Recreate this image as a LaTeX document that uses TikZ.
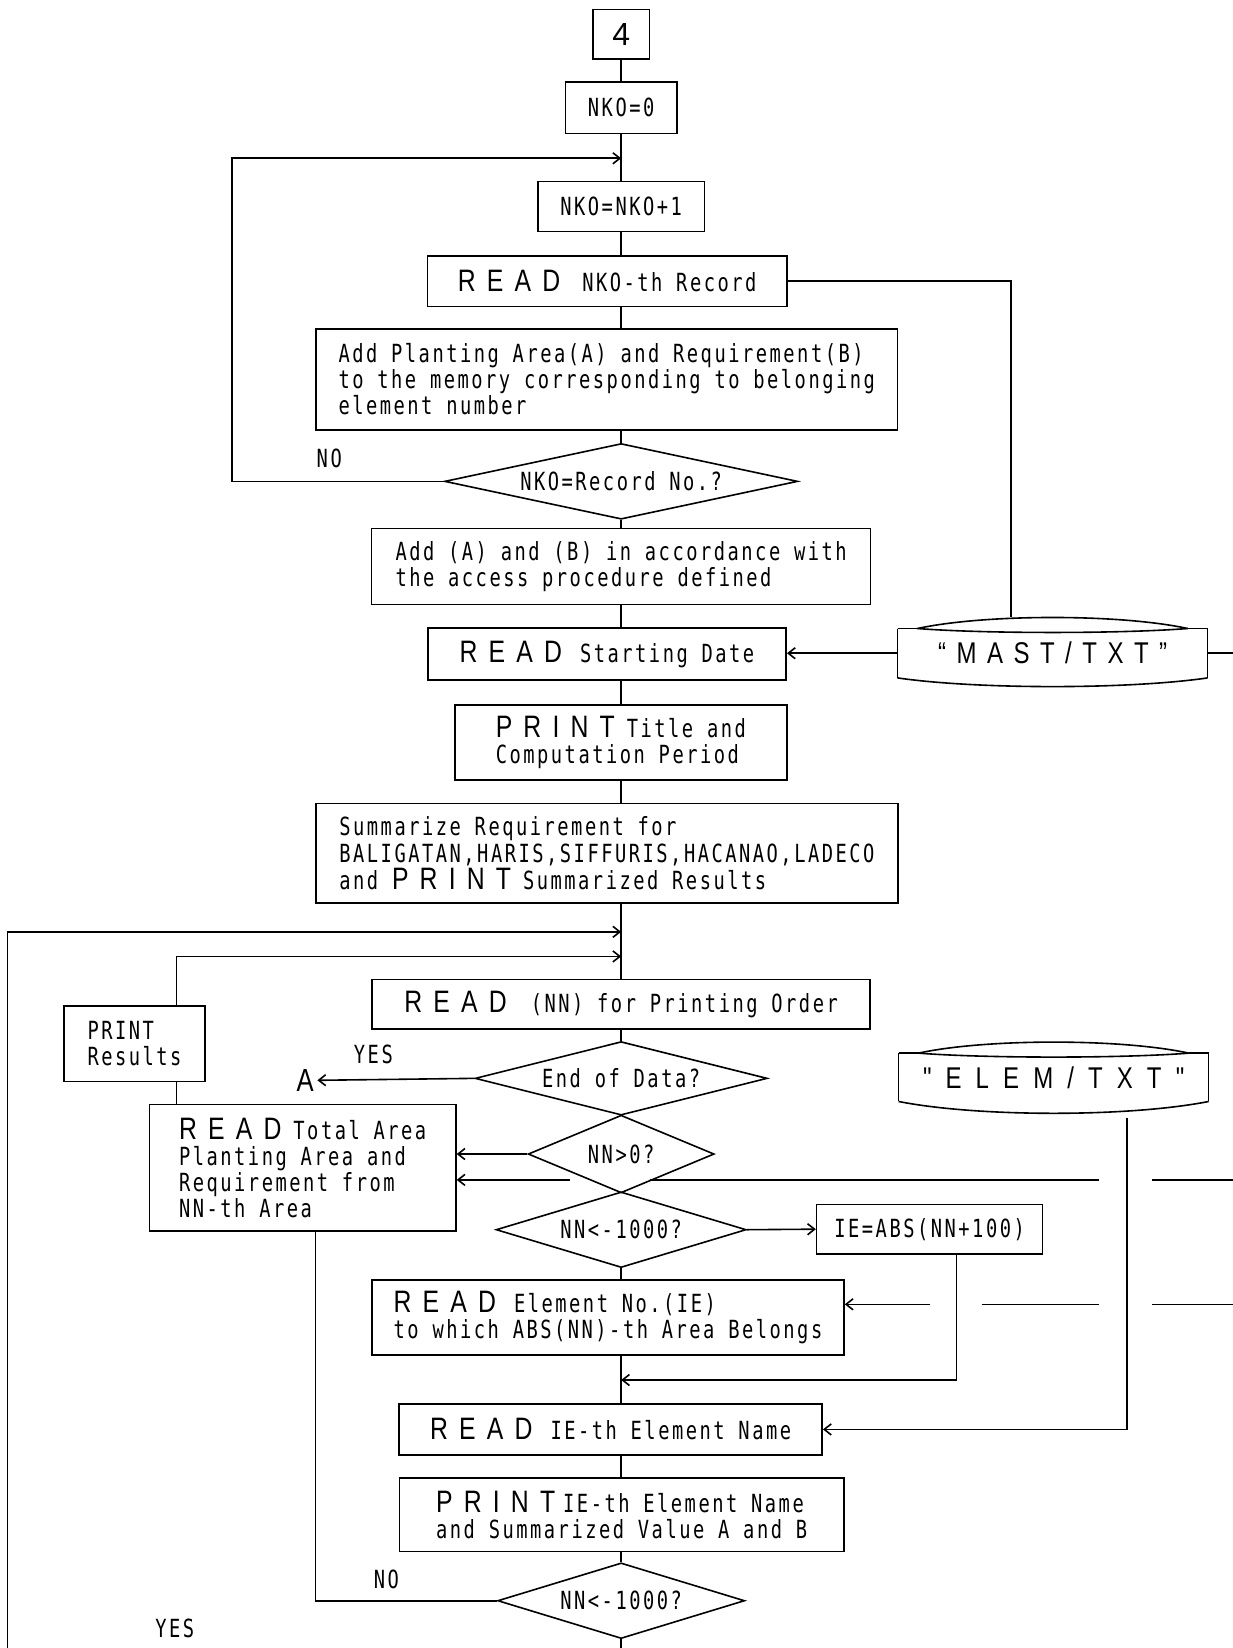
\documentclass[tikz,border=0pt]{standalone}
\usepackage{fontspec}
\setmainfont{DejaVu Sans Mono}[FakeStretch=0.75,LetterSpace=10]
\newfontfamily\kwf{Liberation Sans}[FakeStretch=0.8,LetterSpace=36]
\newfontfamily\stfa{Liberation Sans}[FakeStretch=0.8,LetterSpace=35]
\newfontfamily\stfb{Liberation Sans}[FakeStretch=0.8,LetterSpace=47]
\newfontfamily\digf{Liberation Sans}
\usetikzlibrary{shapes.geometric,arrows.meta}
\newcommand\pxu{0.5256pt}
\newcommand\KW[1]{{\kwf\fontsize{15.5}{12.4}\selectfont #1}}
\tikzset{
  bx/.style 2 args={draw, line width=0.8pt, minimum width=#1*\pxu, minimum height=#2*\pxu, inner sep=0pt, align=left},
  dm/.style n args={3}{diamond, draw, line width=0.8pt, inner sep=0pt, aspect=#3, minimum width=#1*\pxu, minimum height=#2*\pxu},
  arr/.style={-{Straight Barb[length=3.5pt,width=5.5pt]}},
  lbl/.style={inner sep=0pt, anchor=west},
  store/.style 2 args={inner sep=0pt, minimum width=#1*\pxu, minimum height=#2*\pxu},
}
\begin{document}
\begin{tikzpicture}[x=\pxu, y=-\pxu, line width=0.8pt, font=\fontsize{12.5}{13}\selectfont]
\path[use as bounding box] (0,0) rectangle (1173,1568);
\fill[white] (0,0) rectangle (1173,1568);

% ---------- nodes ----------
\node[bx={54}{47}] (b4) at (591,32.5) {\digf\fontsize{16}{16}\selectfont 4};
\node[bx={106}{49}] (nko0) at (591,102.4) {NKO=0};
\node[bx={158.6}{47.6}] (inc) at (591,196.6) {NKO=NKO+1};
\node[bx={341.7}{48.2}] (readrec) at (577.7,267.6) {\KW{READ}\hspace{11pt}NKO-th Record};
\node[bx={553.4}{95.7}] (addplant) at (577.3,361) {Add Planting Area(A) and Requirement(B)\\to the memory corresponding to belonging\\element number};
\node[dm={336}{72}{4.67}] (d1) at (591,458) {NKO=Record No.?};
\node[bx={474.8}{72}] (addab) at (591,539) {Add (A) and (B) in accordance with\\the access procedure defined};
\node[bx={341}{49.2}] (readstart) at (577.5,622.3) {\KW{READ}\hspace{9pt}Starting Date};
\node[bx={316}{71.3}] (print1) at (590.7,706.4) {\KW{PRINT}\hspace{6pt}Title and\\Computation Period};
\node[bx={554}{95}, font=\fontsize{12.5}{13.6}\selectfont] (summ) at (577.5,811.8) {Summarize Requirement for\\BALIGATAN,HARIS,SIFFURIS,HACANAO,LADECO\\and \KW{PRINT}\hspace{6pt}Summarized Results};
\node[bx={474}{47}] (readnn) at (591,955.5) {\KW{READ}\hspace{12pt}(NN) for Printing Order};
\node[dm={278}{70}{3.97}] (dend) at (591,1026) {End of Data?};
\node[dm={177}{74}{2.39}] (dnn0) at (591,1098) {NN>0?};
\node[dm={238}{72}{3.3}] (dnn1000) at (591,1170) {NN<-1000?};
\node[bx={215}{47}] (ie) at (884.5,1169.5) {IE=ABS(NN+100)};
\node[bx={449}{71}] (readel) at (578.5,1253.5) {\KW{READ}\hspace{9pt}Element No.(IE)\\to which ABS(NN)-th Area Belongs};
\node[bx={402.5}{48.5}] (readname) at (581,1360) {\KW{READ}\hspace{9pt}IE-th Element Name};
\node[bx={423}{70}] (printie) at (591.5,1441) {\KW{PRINT}\hspace{4pt}IE-th Element Name\\and Summarized Value A and B};
\node[dm={235}{72}{3.26}] (dbot) at (591,1523) {NN<-1000?};
\node[bx={134}{72}] (printres) at (128,993) {PRINT\\Results};
\node[bx={291.5}{120}] (readtot) at (288,1111) {\KW{READ}\hspace{6pt}Total Area\\Planting Area and\\Requirement from\\NN-th Area};
\node[store={295}{47}] (mast) at (1001.5,621.5) {\stfa\fontsize{15}{15}\selectfont “MAST/TXT”};
\node[store={295}{46}] (elem) at (1002.5,1025) {\stfb\fontsize{15}{15}\selectfont "ELEM/TXT"};
\node[inner sep=1.5pt, anchor=east] (A) at (302,1028) {\kwf\fontsize{16}{16}\selectfont A};

% labels
\node[lbl] (no1) at (300.6,436) {NO};
\node[lbl] (yes1) at (336,1003) {YES};
\node[lbl] (no2) at (355,1503) {NO};
\node[lbl] (yes2) at (147,1549) {YES};

% storage outlines
\draw (854,598) -- (873,598) (1130,598) -- (1149,598);
\draw (873,598) .. controls (937,584) and (1066,584) .. (1130,598);
\draw (1130,598) .. controls (1066,603) and (937,603) .. (873,598);
\draw (854,598) -- (854,645) (1149,598) -- (1149,645);
\draw (854,645) .. controls (930,656) and (1073,656) .. (1149,645);

\draw (855,1002) -- (874,1002) (1131,1002) -- (1150,1002);
\draw (874,1002) .. controls (938,988) and (1067,988) .. (1131,1002);
\draw (1131,1002) .. controls (1067,1007) and (938,1007) .. (874,1002);
\draw (855,1002) -- (855,1048) (1150,1002) -- (1150,1048);
\draw (855,1048) .. controls (931,1063) and (1074,1063) .. (1150,1048);

% ---------- coordinates ----------
\coordinate (ax) at (591,0);
\coordinate (c1) at (591,150.6);
\coordinate (l1) at (221,150.6);
\coordinate (j2) at (591,886.6);
\coordinate (j3) at (591,910);
\coordinate (bl) at (7,1568);
\coordinate (prx) at (168,0);
\coordinate (rtx) at (300,0);
\coordinate (iex) at (910,0);
\coordinate (j4) at (591,1313);
\coordinate (bot) at (591,1568);
\coordinate (mtop) at (962,587.5);
\coordinate (mr) at (1173,621.5);
\coordinate (e1) at (1072,1064);
\coordinate (h1a) at (542,1122.6);
\coordinate (h1b) at (618,1122.6);
\coordinate (h1c) at (1046,1122.6);
\coordinate (h1d) at (1096,1122.6);
\coordinate (h1e) at (1173,1122.6);
\coordinate (h2a) at (885,1241);
\coordinate (h2b) at (934,1241);
\coordinate (h2c) at (1046,1241);
\coordinate (h2d) at (1096,1241);
\coordinate (h2e) at (1173,1241);

% ---------- connectors ----------
\draw (b4) -- (nko0);
\draw (nko0) -- (inc);
\draw[arr] (d1.west) -| (l1) -- (c1);
\draw (inc.south) -- (inc.south |- readrec.north);
\draw (readrec.south -| ax) -- (addplant.north -| ax);
\draw (addplant.south -| ax) -- (d1.north);
\draw (d1.south) -- (addab.north);
\draw (addab.south) -- (readstart.north -| ax);
\draw (readstart.south -| ax) -- (print1.north -| ax);
\draw (print1.south -| ax) -- (summ.north -| ax);
\draw (summ.south -| ax) -- (readnn.north);
\draw[arr] (bl) |- (j2);
\draw[arr] (printres.north -| prx) |- (j3);
\draw (printres.south -| prx) -- (readtot.north -| prx);
\draw (readnn) -- (dend);
\draw[arr] (dend.west) -- (A);
\draw[arr] (dnn0.west) -- (readtot.east |- dnn0.west);
\draw[arr] (h1a) -- (readtot.east |- h1a);
\draw (h1b) -- (h1c);
\draw (h1d) -- (h1e);
\draw[arr] (dnn1000.east) -- (ie.west);
\draw (dnn1000.south) -- (readel.north -| ax);
\draw[arr] (ie.south -| iex) |- (j4);
\draw[arr] (h2a) -- (readel.east |- h2a);
\draw (h2b) -- (h2c);
\draw (h2d) -- (h2e);
\draw (readel.south -| ax) -- (readname.north -| ax);
\draw[arr] (e1) |- (readname.east);
\draw (readname.south -| ax) -- (printie.north -| ax);
\draw (printie.south -| ax) -- (dbot.north);
\draw (dbot.south) -- (bot);
\draw (readtot.south -| rtx) |- (dbot.west);
\draw (readrec.east) -| (mtop);
\draw[arr] (mast.west) -- (readstart.east |- mast.west);
\draw (mast.east) -- (mr);
\end{tikzpicture}
\end{document}
